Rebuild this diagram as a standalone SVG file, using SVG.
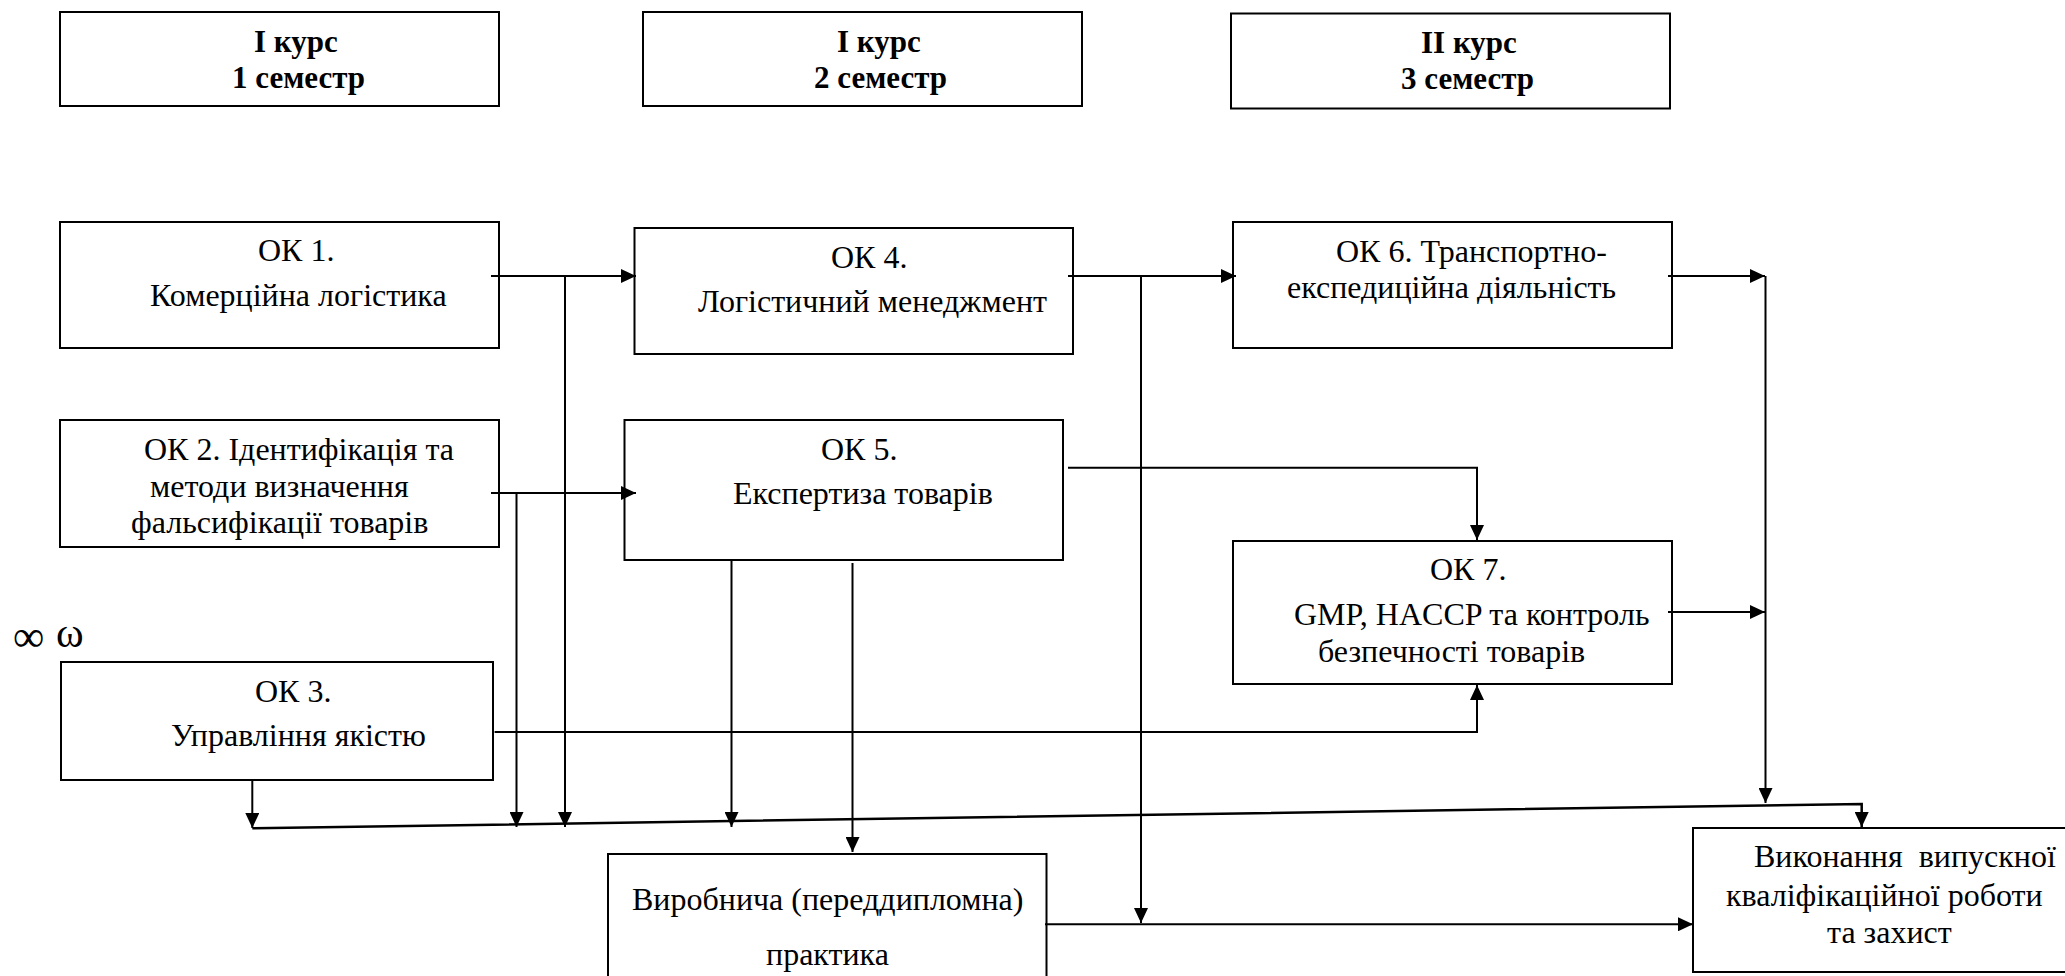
<svg xmlns="http://www.w3.org/2000/svg" width="2065" height="976" viewBox="0 0 2065 976">
<style>
.box{fill:#fff;stroke:#000;stroke-width:2}
.t{font-family:"Liberation Serif","DejaVu Serif",serif;font-size:32px;fill:#000}
.b{font-weight:bold;font-size:31px}
.c{fill:none;stroke:#000;stroke-width:2}
</style>
<defs>
<marker id="ah" markerUnits="userSpaceOnUse" markerWidth="16" markerHeight="14" refX="15" refY="7" orient="auto">
<path d="M0,0 L15,7 L0,14 z" fill="#000"/>
</marker>
</defs>
<rect width="2065" height="976" fill="#fff"/>

<g id="h1">
<rect class="box" x="60" y="12" width="439" height="94"/>
<text class="t b" x="254" y="52">I курс</text>
<text class="t b" x="232" y="88">1 семестр</text>
</g>
<g id="h2">
<rect class="box" x="643" y="12" width="439" height="94"/>
<text class="t b" x="837" y="52">I курс</text>
<text class="t b" x="814" y="88">2 семестр</text>
</g>
<g id="h3">
<rect class="box" x="1231" y="13.5" width="439" height="95"/>
<text class="t b" x="1421" y="53">II курс</text>
<text class="t b" x="1401" y="89">3 семестр</text>
</g>

<g id="ok1">
<rect class="box" x="60" y="222" width="439" height="126"/>
<text class="t" x="258" y="261">ОК 1.</text>
<text class="t" x="150" y="306">Комерційна логістика</text>
</g>
<g id="ok2">
<rect class="box" x="60" y="420" width="439" height="127"/>
<text class="t" x="144" y="460">ОК 2. Ідентифікація та</text>
<text class="t" x="150" y="497">методи визначення</text>
<text class="t" x="131" y="533">фальсифікації товарів</text>
</g>
<g id="ok3">
<rect class="box" x="61" y="662" width="432" height="118"/>
<text class="t" x="255" y="702">ОК 3.</text>
<text class="t" x="171" y="746">Управління якістю</text>
</g>
<g id="ok4">
<rect class="box" x="634.5" y="228" width="438.5" height="126"/>
<text class="t" x="831" y="268">ОК 4.</text>
<text class="t" x="698" y="311.5">Логістичний менеджмент</text>
</g>
<g id="ok5">
<rect class="box" x="624.5" y="420" width="438.5" height="140"/>
<text class="t" x="821" y="459.5">ОК 5.</text>
<text class="t" x="733" y="503.5">Експертиза товарів</text>
</g>
<g id="ok6">
<rect class="box" x="1233" y="222" width="439" height="126"/>
<text class="t" x="1336" y="261.5">ОК 6. Транспортно-</text>
<text class="t" x="1287" y="297.5">експедиційна діяльність</text>
</g>
<g id="ok7">
<rect class="box" x="1233" y="541" width="439" height="143"/>
<text class="t" x="1430" y="580">ОК 7.</text>
<text class="t" x="1294" y="625">GMP, HACCP та контроль</text>
<text class="t" x="1318" y="661.5">безпечності товарів</text>
</g>
<g id="practice">
<rect class="box" x="608" y="854" width="438.5" height="140"/>
<text class="t" x="632" y="910">Виробнича (переддипломна)</text>
<text class="t" x="766" y="965">практика</text>
</g>
<g id="result">
<rect class="box" x="1693" y="828" width="400" height="144"/>
<text class="t" x="1754" y="867" xml:space="preserve">Виконання  випускної</text>
<text class="t" x="1726" y="906">кваліфікаційної роботи</text>
<text class="t" x="1827" y="943">та захист</text>
</g>
<g id="pagenum">
<text class="t" x="13" y="651" style="font-size:44px">∞</text>
<text class="t" x="56" y="647" style="font-size:42px">ω</text>
</g>

<g id="connectors">
<path class="c" d="M491,276 H636" marker-end="url(#ah)"/>
<path class="c" d="M565,276 V827" marker-end="url(#ah)"/>
<path class="c" d="M491,493 H636" marker-end="url(#ah)"/>
<path class="c" d="M516.5,493 V827" marker-end="url(#ah)"/>
<path class="c" d="M1068,276 H1236" marker-end="url(#ah)"/>
<path class="c" d="M1141,276 V923" marker-end="url(#ah)"/>
<path class="c" d="M1068,467.7 H1477 V540" marker-end="url(#ah)"/>
<path class="c" d="M731.5,560 V827" marker-end="url(#ah)"/>
<path class="c" d="M852.5,563 V852" marker-end="url(#ah)"/>
<path class="c" d="M1668,276 H1765" marker-end="url(#ah)"/>
<path class="c" d="M1668,612 H1765" marker-end="url(#ah)"/>
<path class="c" d="M1765.5,276 V803" marker-end="url(#ah)"/>
<path class="c" d="M494.6,732 H1477 V685" marker-end="url(#ah)"/>
<path class="c" d="M252.3,780 V828" marker-end="url(#ah)"/>
<path class="c" d="M252.3,828.3 L1861.7,804 V827" marker-end="url(#ah)" style="stroke-width:2.5"/>
<path class="c" d="M1045,924.3 H1693" marker-end="url(#ah)"/>
</g>
</svg>
